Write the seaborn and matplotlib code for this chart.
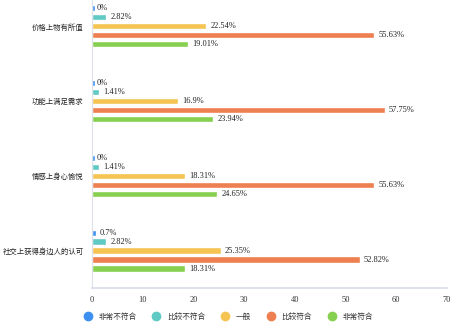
import pandas as pd
import matplotlib.pyplot as plt
import seaborn as sns
from matplotlib.lines import Line2D

# survey data (percent)
items = ['价格上物有所值', '功能上满足需求', '情感上身心愉悦', '社交上获得身边人的认可']
levels = ['非常不符合', '比较不符合', '一般', '比较符合', '非常符合']
very_no = [0, 0, 0, 0.7]
rather_no = [2.82, 1.41, 1.41, 2.82]
neutral = [22.54, 16.9, 18.31, 25.35]
rather_yes = [55.63, 57.75, 55.63, 52.82]
very_yes = [19.01, 23.94, 24.65, 18.31]
colors = ['#3d8ff0', '#5fc9c4', '#f6c452', '#ee7f50', '#87cf4f']

rows = []
for lvl, vals in zip(levels, [very_no, rather_no, neutral, rather_yes, very_yes]):
    for it, v in zip(items, vals):
        rows.append({'item': it, 'level': lvl, 'value': v})
df = pd.DataFrame(rows)

sns.set_style('white')
plt.rcParams['font.family'] = ['Liberation Serif', 'Noto Sans CJK SC']
plt.rcParams['text.color'] = '#333333'

fig = plt.figure(figsize=(4.53, 3.24), dpi=100)
ax = fig.add_axes([92 / 453, 1 - 288 / 324, (447 - 92) / 453, 288 / 324])

sns.barplot(data=df, y='item', x='value', hue='level', order=items, hue_order=levels,
            palette=colors, orient='h', width=0.6, gap=0.3, legend=False, ax=ax,
            saturation=1)

for cont in ax.containers:
    labels = [f'{v:g}%' for v in cont.datavalues]
    ax.bar_label(cont, labels=labels, padding=3, fontsize=6, color='#222222')
    # zero bars still get a small stub, as in the original
    for p in cont:
        if p.get_width() == 0:
            p.set_width(0.55)

ax.set_xlim(0, 70)
ax.set_ylim(3.5, -0.35)
ax.set_xticks(range(0, 71, 10))
ax.set_xlabel('')
ax.set_ylabel('')
ax.tick_params(axis='x', labelsize=6, colors='#333333', length=0, pad=6)
ax.tick_params(axis='y', labelsize=5.3, colors='#222222', length=0, pad=6)
for s in ['top', 'right']:
    ax.spines[s].set_visible(False)
ax.spines['bottom'].set_color('#d5dcea')
ax.spines['bottom'].set_linewidth(1.2)
ax.spines['left'].set_color('#dde2ea')

handles = [Line2D([], [], marker='o', linestyle='', markersize=6, color=c) for c in colors]
fig.legend(handles, levels, loc='center', bbox_to_anchor=(0.5, 1 - 317 / 324), ncol=5,
           frameon=False, fontsize=5.5, handletextpad=0.4, columnspacing=1.6)

plt.savefig('out.png', dpi=100)
